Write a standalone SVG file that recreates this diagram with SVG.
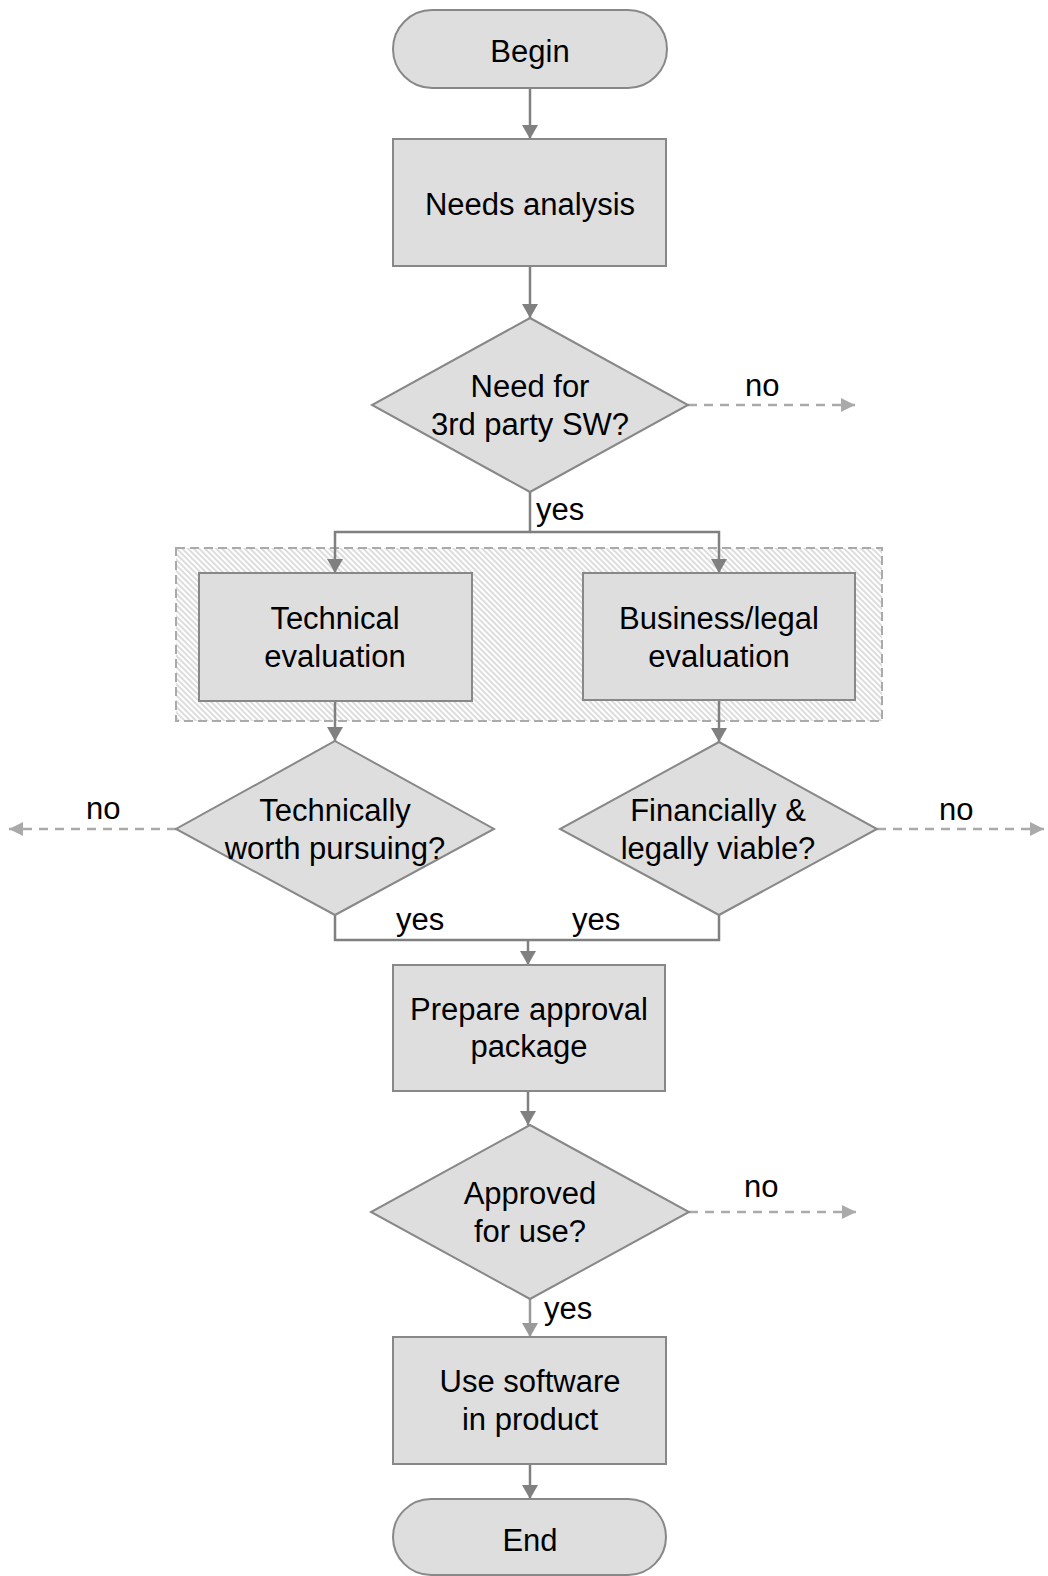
<svg xmlns="http://www.w3.org/2000/svg" width="1048" height="1576" viewBox="0 0 1048 1576">
  <style>
    .node { fill: #dedede; stroke: #888888; stroke-width: 2; }
    .label { font-family: "Liberation Sans", Arial, sans-serif; font-size: 31px; fill: #000000; text-anchor: middle; }
    .tag { font-family: "Liberation Sans", Arial, sans-serif; font-size: 31px; fill: #000000; }
    .flow { fill: none; stroke: #808080; stroke-width: 2.5; }
    .flow-light { fill: none; stroke: #999999; stroke-width: 2.5; }
    .exit { fill: none; stroke: #aaaaaa; stroke-width: 2.5; stroke-dasharray: 9 7; }
    .group { fill: url(#hatch); stroke: #aaaaaa; stroke-width: 2; stroke-dasharray: 9 5; }
  </style>
  <defs>
    <pattern id="hatch" patternUnits="userSpaceOnUse" width="4" height="4" patternTransform="rotate(-45)">
      <rect width="4" height="4" fill="#ffffff"/>
      <line x1="1" y1="0" x2="1" y2="4" stroke="#c6c6c6" stroke-width="1.2"/>
    </pattern>
    <marker id="arrow" viewBox="0 0 14 16" refX="14" refY="8" markerWidth="14" markerHeight="16" markerUnits="userSpaceOnUse" orient="auto">
      <path d="M0,0 L14,8 L0,16 Z" fill="#808080"/>
    </marker>
    <marker id="arrow-light" viewBox="0 0 14 16" refX="14" refY="8" markerWidth="14" markerHeight="16" markerUnits="userSpaceOnUse" orient="auto">
      <path d="M0,0 L14,8 L0,16 Z" fill="#999999"/>
    </marker>
    <marker id="arrow-exit" viewBox="0 0 14 14" refX="14" refY="7" markerWidth="14" markerHeight="14" markerUnits="userSpaceOnUse" orient="auto">
      <path d="M0,0 L14,7 L0,14 Z" fill="#aaaaaa"/>
    </marker>
  </defs>

  <!-- parallel evaluation band -->
  <rect id="evaluation-band" class="group" x="176" y="548" width="706" height="173"/>

  <!-- connectors -->
  <g id="connectors">
    <line class="flow" x1="530" y1="88" x2="530" y2="139" marker-end="url(#arrow)"/>
    <line class="flow" x1="530" y1="266" x2="530" y2="318" marker-end="url(#arrow)"/>
    <line class="exit" x1="688" y1="405" x2="855" y2="405" marker-end="url(#arrow-exit)"/>
    <polyline class="flow" points="530,492 530,532 335,532 335,573" marker-end="url(#arrow)"/>
    <polyline class="flow" points="530,532 719,532 719,573" marker-end="url(#arrow)"/>
    <line class="flow" x1="335" y1="701" x2="335" y2="741" marker-end="url(#arrow)"/>
    <line class="flow" x1="719" y1="700" x2="719" y2="742" marker-end="url(#arrow)"/>
    <line class="exit" x1="176" y1="829" x2="9" y2="829" marker-end="url(#arrow-exit)"/>
    <line class="exit" x1="877" y1="829" x2="1044" y2="829" marker-end="url(#arrow-exit)"/>
    <polyline class="flow" points="335,915 335,940 719,940 719,915"/>
    <line class="flow" x1="528" y1="940" x2="528" y2="965" marker-end="url(#arrow)"/>
    <line class="flow" x1="528" y1="1091" x2="528" y2="1125" marker-end="url(#arrow)"/>
    <line class="exit" x1="689" y1="1212" x2="856" y2="1212" marker-end="url(#arrow-exit)"/>
    <line class="flow-light" x1="530" y1="1299" x2="530" y2="1337" marker-end="url(#arrow-light)"/>
    <line class="flow" x1="530" y1="1464" x2="530" y2="1499" marker-end="url(#arrow)"/>
    <text class="tag" x="745" y="396">no</text>
    <text class="tag" x="536" y="520">yes</text>
    <text class="tag" x="86" y="819">no</text>
    <text class="tag" x="939" y="820">no</text>
    <text class="tag" x="396" y="930">yes</text>
    <text class="tag" x="572" y="930">yes</text>
    <text class="tag" x="744" y="1197">no</text>
    <text class="tag" x="544" y="1319">yes</text>
  </g>

  <g id="begin">
    <rect class="node" x="393" y="10" width="274" height="78" rx="39"/>
    <text class="label" x="530" y="62">Begin</text>
  </g>

  <g id="needs-analysis">
    <rect class="node" x="393" y="139" width="273" height="127"/>
    <text class="label" x="530" y="215">Needs analysis</text>
  </g>

  <g id="need-third-party">
    <polygon class="node" points="530,318 688,405 530,492 372,405"/>
    <text class="label" x="530" y="397">Need for</text>
    <text class="label" x="530" y="435">3rd party SW?</text>
  </g>

  <g id="technical-evaluation">
    <rect class="node" x="199" y="573" width="273" height="128"/>
    <text class="label" x="335" y="629">Technical</text>
    <text class="label" x="335" y="667">evaluation</text>
  </g>

  <g id="business-evaluation">
    <rect class="node" x="583" y="573" width="272" height="127"/>
    <text class="label" x="719" y="629">Business/legal</text>
    <text class="label" x="719" y="667">evaluation</text>
  </g>

  <g id="technically-worth">
    <polygon class="node" points="335,741 494,829 335,915 176,829"/>
    <text class="label" x="335" y="821">Technically</text>
    <text class="label" x="335" y="859">worth pursuing?</text>
  </g>

  <g id="financially-viable">
    <polygon class="node" points="719,742 877,829 719,915 560,829"/>
    <text class="label" x="718" y="821">Financially &amp;</text>
    <text class="label" x="718" y="859">legally viable?</text>
  </g>

  <g id="prepare-approval">
    <rect class="node" x="393" y="965" width="272" height="126"/>
    <text class="label" x="529" y="1020">Prepare approval</text>
    <text class="label" x="529" y="1057">package</text>
  </g>

  <g id="approved">
    <polygon class="node" points="530,1125 689,1212 530,1299 371,1212"/>
    <text class="label" x="530" y="1204">Approved</text>
    <text class="label" x="530" y="1242">for use?</text>
  </g>

  <g id="use-software">
    <rect class="node" x="393" y="1337" width="273" height="127"/>
    <text class="label" x="530" y="1392">Use software</text>
    <text class="label" x="530" y="1430">in product</text>
  </g>

  <g id="end">
    <rect class="node" x="393" y="1499" width="273" height="76" rx="38"/>
    <text class="label" x="530" y="1551">End</text>
  </g>
</svg>
